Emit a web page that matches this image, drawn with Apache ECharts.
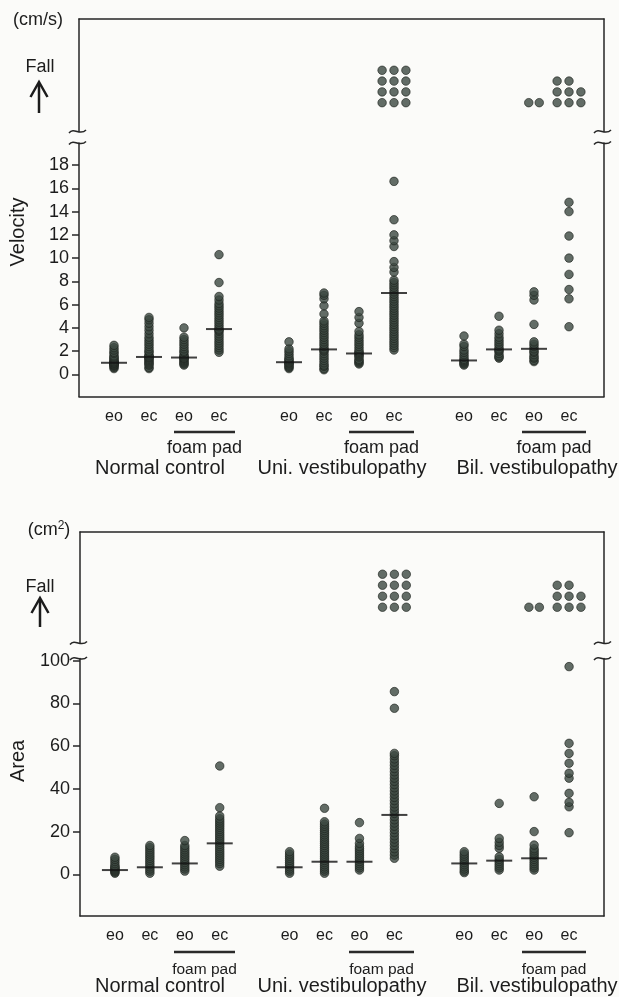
<!DOCTYPE html>
<html>
<head>
<meta charset="utf-8">
<script src="https://cdn.jsdelivr.net/npm/echarts@6/dist/echarts.min.js"></script>
<style>
  html, body { margin: 0; padding: 0; background: #fbfbf9; }
  #chart { width: 619px; height: 997px; }
</style>
</head>
<body>
<div id="chart"></div>
<script>
  // x slots of the 12 conditions (gap of one slot between groups)
  const xSlots = [0, 1, 2, 3, 5, 6, 7, 8, 10, 11, 12, 13];
  const condLabels = ["eo", "ec", "eo", "ec", "eo", "ec", "eo", "ec", "eo", "ec", "eo", "ec"];
  const groupNames = ["Normal control", "Uni. vestibulopathy", "Bil. vestibulopathy"];
  const velTicks = [0, 2, 4, 6, 8, 10, 12, 14, 16, 18];
  const areaTicks = [0, 20, 40, 60, 80, 100];

  // Velocity (cm/s)
  const velNcEo = [0.5, 0.6, 0.7, 0.8, 0.8, 0.9, 0.9, 1.0, 1.0, 1.0, 1.1, 1.1, 1.2, 1.3, 1.4, 1.5, 1.6, 1.8, 1.9, 2.1, 2.3, 2.5];
  const velNcEc = [0.5, 0.6, 0.8, 0.9, 1.0, 1.1, 1.2, 1.3, 1.4, 1.5, 1.5, 1.6, 1.7, 1.9, 2.0, 2.2, 2.4, 2.6, 2.8, 3.0, 3.2, 3.5, 3.8, 4.1, 4.4, 4.7, 4.9];
  const velNcEoF = [0.8, 0.9, 1.0, 1.1, 1.2, 1.3, 1.4, 1.4, 1.5, 1.6, 1.7, 1.9, 2.0, 2.2, 2.4, 2.6, 2.8, 3.0, 3.2, 4.0];
  const velNcEcF = [1.9, 2.1, 2.3, 2.5, 2.7, 2.9, 3.1, 3.3, 3.5, 3.7, 3.8, 3.9, 4.1, 4.3, 4.5, 4.7, 4.9, 5.1, 5.3, 5.5, 5.7, 5.9, 6.1, 6.4, 6.7, 7.9, 10.3];
  const velUniEo = [0.5, 0.6, 0.7, 0.8, 0.9, 1.0, 1.0, 1.1, 1.2, 1.3, 1.4, 1.6, 1.8, 2.0, 2.2, 2.8];
  const velUniEc = [0.4, 0.5, 0.7, 0.8, 1.0, 1.2, 1.4, 1.6, 1.8, 2.0, 2.1, 2.2, 2.4, 2.6, 2.8, 3.0, 3.2, 3.4, 3.6, 3.8, 4.0, 4.2, 4.4, 4.6, 5.2, 5.9, 6.5, 6.8, 7.0];
  const velUniEoF = [0.9, 1.0, 1.1, 1.2, 1.3, 1.5, 1.6, 1.7, 1.8, 1.9, 2.0, 2.2, 2.4, 2.6, 2.8, 3.0, 3.2, 3.4, 3.7, 4.4, 4.9, 5.4];
  const velUniEcF = [2.1, 2.3, 2.5, 2.7, 2.9, 3.1, 3.3, 3.5, 3.7, 3.9, 4.1, 4.3, 4.5, 4.7, 4.9, 5.1, 5.3, 5.5, 5.7, 5.9, 6.1, 6.3, 6.5, 6.7, 6.9, 7.1, 7.3, 7.5, 7.7, 7.9, 8.1, 8.8, 9.2, 9.7, 11.0, 11.5, 12.0, 13.3, 16.6];
  const velBilEo = [0.8, 0.9, 1.0, 1.1, 1.2, 1.3, 1.5, 1.7, 1.9, 2.1, 2.4, 2.6, 3.3];
  const velBilEc = [1.4, 1.5, 1.6, 1.8, 2.0, 2.1, 2.2, 2.4, 2.6, 2.8, 3.0, 3.2, 3.5, 3.8, 5.0];
  const velBilEoF = [1.1, 1.2, 1.4, 1.5, 1.7, 1.9, 2.0, 2.2, 2.4, 2.6, 2.8, 4.3, 6.4, 6.8, 7.1];
  const velBilEcF = [4.1, 6.5, 7.3, 8.6, 10.0, 11.9, 14.0, 14.8];
  const velMedian = [1.0, 1.5, 1.45, 3.9, 1.05, 2.15, 1.8, 7.0, 1.2, 2.15, 2.2, null];
  const velFalls = [0, 0, 0, 0, 0, 0, 0, 12, 0, 0, 2, 8];

  // Area (cm2)
  const areaNcEo = [0.5, 1.0, 1.5, 2.0, 2.5, 3.0, 3.5, 4.0, 5.0, 6.0, 7.0, 8.0];
  const areaNcEc = [0.5, 1.5, 2.5, 3.5, 4.5, 5.5, 6.5, 7.5, 8.5, 9.5, 10.5, 11.5, 12.5, 13.5];
  const areaNcEoF = [1.5, 2.5, 3.5, 4.5, 5.5, 6.5, 7.5, 8.5, 9.5, 10.5, 11.5, 12.5, 13.5, 15.8];
  const areaNcEcF = [3.8, 5, 6, 7, 8, 9, 10, 11, 12, 13, 14, 15, 16, 17, 18, 19, 20, 21, 22, 23, 24, 25, 26, 27.3, 31.2, 50.7];
  const areaUniEo = [0.5, 1.5, 2.5, 3.5, 4.5, 5.5, 6.5, 7.5, 8.5, 9.5, 10.6];
  const areaUniEc = [0.5, 1.5, 2.5, 3.5, 4.5, 5.5, 6.5, 7.5, 8.5, 9.5, 10.5, 11.5, 12.5, 13.5, 14.5, 15.5, 16.5, 17.5, 18.5, 19.5, 20.5, 21.5, 22.5, 23.5, 24.6, 30.9];
  const areaUniEoF = [2, 3, 4, 5, 6, 7, 8, 9, 10, 11, 12, 13, 14.5, 16.8, 24.2];
  const areaUniEcF = [7.5, 9, 10.5, 12, 13.5, 15, 16.5, 18, 19.5, 21, 22.5, 24, 25.5, 27, 28.5, 30, 31.5, 33, 34.5, 36, 37.5, 39, 40.5, 42, 43.5, 45, 46.5, 48, 49.5, 51, 52.5, 54, 55.5, 56.6, 77.7, 85.5];
  const areaBilEo = [0.8, 1.5, 2.5, 3.5, 4.5, 5.5, 6.5, 7.5, 8.5, 9.5, 10.6];
  const areaBilEc = [2.0, 3.0, 4.0, 5.0, 6.0, 7.0, 8.2, 12.2, 13.5, 15, 16.8, 33.2];
  const areaBilEoF = [2, 3, 4, 5, 6, 7, 8, 9, 10, 11, 12, 13.7, 20, 36.3];
  const areaBilEcF = [19.5, 31.6, 33.7, 37.9, 45, 47.3, 52, 56.6, 61.3, 97.2];
  const areaMedian = [2.0, 3.3, 5.1, 14.5, 3.3, 5.9, 5.9, 27.8, 5.1, 6.4, 7.5, null];
  const areaFalls = [0, 0, 0, 0, 0, 0, 0, 12, 0, 0, 2, 8];

  const velValues = [velNcEo, velNcEc, velNcEoF, velNcEcF, velUniEo, velUniEc, velUniEoF, velUniEcF, velBilEo, velBilEc, velBilEoF, velBilEcF];
  const areaValues = [areaNcEo, areaNcEc, areaNcEoF, areaNcEcF, areaUniEo, areaUniEc, areaUniEoF, areaUniEcF, areaBilEo, areaBilEc, areaBilEoF, areaBilEcF];

  const X_MIN = -1, X_MAX = 14, RIGHT = 604;
  const ink = "#1c1c1c";
  const frame = { color: "#262626", width: 1.5 };
  const dotStyle = { color: "#3c4841", borderColor: "#1c211d", borderWidth: 0.8 };

  const panels = [
    { left: 79, fallTop: 19, fallBottom: 131.5, mainTop: 143, mainBottom: 396.5,
      yMin: -1.9, yMax: 19.9, fallMin: -2.67, fallMax: 7.75,
      ticks: velTicks, values: velValues, medians: velMedian, falls: velFalls },
    { left: 80, fallTop: 532, fallBottom: 643, mainTop: 658.5, mainBottom: 916,
      yMin: -19.5, yMax: 101, fallMin: -3.25, fallMax: 6.84,
      ticks: areaTicks, values: areaValues, medians: areaMedian, falls: areaFalls }
  ];

  // fallers stacked in rows of three from the bottom
  function fallPoints(counts) {
    const pts = [];
    counts.forEach((n, i) => {
      for (let k = 0; k < n; k++) {
        const row = Math.floor(k / 3), col = k % 3;
        const off = n <= 2 ? (col - (n - 1) / 2) * 0.3 : (col - 1) * 0.34;
        pts.push([xSlots[i] + off, row]);
      }
    });
    return pts;
  }

  const grid = [], xAxis = [], yAxis = [], series = [];
  panels.forEach((p, k) => {
    const w = RIGHT - p.left;
    grid.push(
      { left: p.left, width: w, top: p.fallTop, height: p.fallBottom - p.fallTop, outerBoundsMode: "none" },
      { left: p.left, width: w, top: p.mainTop, height: p.mainBottom - p.mainTop, outerBoundsMode: "none" }
    );
    xAxis.push(
      { gridIndex: 2 * k, type: "value", position: "top", min: X_MIN, max: X_MAX,
        axisLine: { onZero: false, lineStyle: frame }, axisTick: { show: false },
        axisLabel: { show: false }, splitLine: { show: false } },
      { gridIndex: 2 * k + 1, type: "value", position: "bottom", min: X_MIN, max: X_MAX,
        axisLine: { onZero: false, lineStyle: frame }, axisTick: { show: false },
        axisLabel: { customValues: xSlots, formatter: (v) => condLabels[xSlots.indexOf(v)],
          fontSize: 16, margin: 12, color: ink, fontFamily: "Liberation Sans" },
        splitLine: { show: false } }
    );
    const plain = { axisTick: { show: false }, axisLabel: { show: false }, splitLine: { show: false } };
    yAxis.push(
      Object.assign({ gridIndex: 2 * k, type: "value", position: "left", min: p.fallMin, max: p.fallMax,
        axisLine: { show: true, onZero: false, lineStyle: frame } }, plain),
      Object.assign({ gridIndex: 2 * k, type: "value", position: "right", min: p.fallMin, max: p.fallMax,
        axisLine: { show: true, onZero: false, lineStyle: frame } }, plain),
      { gridIndex: 2 * k + 1, type: "value", position: "left", min: p.yMin, max: p.yMax,
        axisLine: { show: true, onZero: false, lineStyle: frame },
        axisTick: { show: true, customValues: p.ticks, length: 7, lineStyle: frame },
        axisLabel: { customValues: p.ticks, fontSize: 18, margin: 10, color: ink, fontFamily: "Liberation Sans" },
        splitLine: { show: false } },
      Object.assign({ gridIndex: 2 * k + 1, type: "value", position: "right", min: p.yMin, max: p.yMax,
        axisLine: { show: true, onZero: false, lineStyle: frame } }, plain)
    );

    const dots = [];
    p.values.forEach((arr, i) => arr.forEach((v) => dots.push([xSlots[i], v])));
    const meds = [];
    p.medians.forEach((m, i) => { if (m !== null) meds.push([xSlots[i], m]); });

    series.push(
      { type: "scatter", xAxisIndex: 2 * k + 1, yAxisIndex: 4 * k + 2, data: dots,
        symbolSize: 8.5, itemStyle: dotStyle, silent: true, z: 2 },
      { type: "scatter", xAxisIndex: 2 * k + 1, yAxisIndex: 4 * k + 2, data: meds,
        symbol: "rect", symbolSize: [26, 2], itemStyle: { color: "#111" }, silent: true, z: 3 },
      { type: "scatter", xAxisIndex: 2 * k, yAxisIndex: 4 * k, data: fallPoints(p.falls),
        symbolSize: 8.5, itemStyle: dotStyle, silent: true, z: 2 }
    );
  });

  // decorations: units, "Fall" arrows, axis breaks, foam pad bars, group names
  const txt = (x, y, text, size, extra) => Object.assign({
    type: "text", x: x, y: y,
    style: { text: text, fontSize: size, fontFamily: "Liberation Sans", fill: ink, align: "center", verticalAlign: "middle" }
  }, extra || {});
  const squiggle = (x, y) => ({
    type: "bezierCurve",
    shape: { x1: x - 10, y1: y + 1.5, cpx1: x - 5, cpy1: y - 5, cpx2: x + 1, cpy2: y + 5, x2: x + 7, y2: y - 1.5 },
    style: { stroke: "#262626", lineWidth: 1.5, fill: null }
  });
  const arrow = (x, yTop, yBot) => [
    { type: "line", shape: { x1: x, y1: yTop + 1, x2: x, y2: yBot }, style: { stroke: ink, lineWidth: 2.5 } },
    { type: "polyline", shape: { points: [[x - 8.5, yTop + 15], [x, yTop], [x + 8.5, yTop + 15]] },
      style: { stroke: ink, lineWidth: 2.5, fill: null } }
  ];

  const graphic = [];
  // top panel
  graphic.push(txt(38, 20, "(cm/s)", 18));
  graphic.push(txt(40, 67, "Fall", 18));
  graphic.push(...arrow(39, 82, 113));
  graphic.push(txt(18, 232, "Velocity", 20, { rotation: Math.PI / 2 }));
  // bottom panel
  graphic.push({
    type: "text", x: 49, y: 530,
    style: { text: "(cm{s|2})", fontSize: 18, fontFamily: "Liberation Sans", fill: ink, align: "center", verticalAlign: "middle",
      rich: { s: { fontSize: 12, verticalAlign: "top", padding: [0, 0, 8, 0], fontFamily: "Liberation Sans" } } }
  });
  graphic.push(txt(40, 587, "Fall", 18));
  graphic.push(...arrow(40, 598, 627));
  graphic.push(txt(18, 761, "Area", 20, { rotation: Math.PI / 2 }));

  panels.forEach((p) => {
    [p.left, RIGHT].forEach((x) => {
      graphic.push(squiggle(x, p.fallBottom), squiggle(x, p.mainTop));
    });
  });

  const foamBars = [[174, 235], [349, 414], [522, 586]];
  const groupCenters = [160, 342, 537];
  const labelRows = [
    { bar: 432, foam: 448, foamSize: 18, group: 468 },
    { bar: 952, foam: 970, foamSize: 15.5, group: 986 }
  ];
  labelRows.forEach((r) => {
    foamBars.forEach((b) => {
      graphic.push({ type: "line", shape: { x1: b[0], y1: r.bar, x2: b[1], y2: r.bar }, style: { stroke: "#2a2a2a", lineWidth: 2.5 } });
      graphic.push(txt((b[0] + b[1]) / 2, r.foam, "foam pad", r.foamSize));
    });
    groupNames.forEach((g, i) => graphic.push(txt(groupCenters[i], r.group, g, 20)));
  });

  const chart = echarts.init(document.getElementById("chart"));
  chart.setOption({
    animation: false,
    backgroundColor: "#fbfbf9",
    textStyle: { fontFamily: "Liberation Sans" },
    grid: grid,
    xAxis: xAxis,
    yAxis: yAxis,
    series: series,
    graphic: graphic
  });
</script>
</body>
</html>
